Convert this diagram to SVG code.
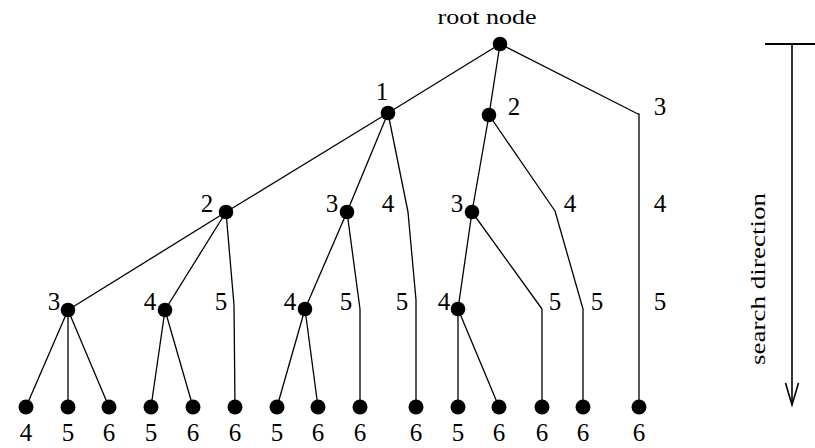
<svg xmlns="http://www.w3.org/2000/svg" width="815" height="448" viewBox="0 0 815 448">
  <style>
    .edge { fill: none; stroke: #000; stroke-width: 1.3; stroke-linejoin: round; }
    .dot { fill: #000; }
    .num { font-family: "Liberation Serif", "Times New Roman", serif; font-size: 25px; fill: #000; text-anchor: middle; }
    .cap { font-family: "Liberation Serif", "Times New Roman", serif; font-size: 21px; fill: #000; }
  </style>
  <rect width="815" height="448" fill="#fff"/>

  <!-- connectors -->
  <g id="connectors" class="edge">
    <!-- root -->
    <line x1="500" y1="44" x2="388" y2="113"/>
    <line x1="500" y1="44" x2="489" y2="115"/>
    <polyline points="500,44 638,114 639,114 639,407"/>
    <!-- node 1 -->
    <line x1="388" y1="113" x2="226" y2="212"/>
    <line x1="388" y1="113" x2="347" y2="212"/>
    <polyline points="388,113 408,212 416,300 416,407"/>
    <!-- node 2 -->
    <line x1="489" y1="115" x2="472" y2="212"/>
    <polyline points="489,115 555,211 583,309 583,407"/>
    <!-- node 1-2 -->
    <line x1="226" y1="212" x2="68" y2="310"/>
    <line x1="226" y1="212" x2="165" y2="310"/>
    <polyline points="226,212 234,305 235,407"/>
    <!-- node 1-3 -->
    <line x1="347" y1="212" x2="305" y2="309"/>
    <polyline points="347,212 360,309 360,407"/>
    <!-- node 2-3 -->
    <line x1="472" y1="212" x2="458" y2="309"/>
    <polyline points="472,212 542,309 542,407"/>
    <!-- level 3 to leaves -->
    <line x1="68" y1="310" x2="26" y2="407"/>
    <line x1="68" y1="310" x2="68" y2="407"/>
    <line x1="68" y1="310" x2="109" y2="407"/>
    <line x1="165" y1="310" x2="151" y2="407"/>
    <line x1="165" y1="310" x2="193" y2="407"/>
    <line x1="305" y1="309" x2="277" y2="407"/>
    <line x1="305" y1="309" x2="318" y2="407"/>
    <line x1="458" y1="309" x2="458" y2="407"/>
    <line x1="458" y1="309" x2="499" y2="407"/>
  </g>

  <!-- root -->
  <g id="root">
    <circle class="dot" cx="500" cy="44" r="7.3"/>
    <text class="cap" x="487" y="24" text-anchor="middle" textLength="99" lengthAdjust="spacingAndGlyphs">root node</text>
  </g>

  <!-- level 1 -->
  <g id="n1"><circle class="dot" cx="388" cy="113" r="7.3"/><text class="num" x="382" y="100">1</text></g>
  <g id="n2"><circle class="dot" cx="489" cy="115" r="7.3"/><text class="num" x="514" y="115">2</text></g>
  <g id="b3"><text class="num" x="660" y="115">3</text></g>

  <!-- level 2 -->
  <g id="n1_2"><circle class="dot" cx="226" cy="212" r="7.3"/><text class="num" x="207" y="212">2</text></g>
  <g id="n1_3"><circle class="dot" cx="347" cy="212" r="7.3"/><text class="num" x="332" y="212">3</text></g>
  <g id="b1_4"><text class="num" x="388" y="212">4</text></g>
  <g id="n2_3"><circle class="dot" cx="472" cy="212" r="7.3"/><text class="num" x="457" y="212">3</text></g>
  <g id="b2_4"><text class="num" x="570" y="212">4</text></g>
  <g id="b3_4"><text class="num" x="660" y="212">4</text></g>

  <!-- level 3 -->
  <g id="n12_3"><circle class="dot" cx="68" cy="310" r="7.3"/><text class="num" x="54" y="310">3</text></g>
  <g id="n12_4"><circle class="dot" cx="165" cy="310" r="7.3"/><text class="num" x="150" y="310">4</text></g>
  <g id="b12_5"><text class="num" x="221" y="310">5</text></g>
  <g id="n13_4"><circle class="dot" cx="305" cy="309" r="7.3"/><text class="num" x="290" y="310">4</text></g>
  <g id="b13_5"><text class="num" x="346" y="310">5</text></g>
  <g id="b14_5"><text class="num" x="402" y="310">5</text></g>
  <g id="n23_4"><circle class="dot" cx="458" cy="309" r="7.3"/><text class="num" x="444" y="310">4</text></g>
  <g id="b23_5"><text class="num" x="555" y="310">5</text></g>
  <g id="b24_5"><text class="num" x="597" y="310">5</text></g>
  <g id="b34_5"><text class="num" x="660" y="310">5</text></g>

  <!-- leaves -->
  <g id="leaf1"><circle class="dot" cx="26" cy="407" r="7.5"/><text class="num" x="26" y="441">4</text></g>
  <g id="leaf2"><circle class="dot" cx="68" cy="407" r="7.5"/><text class="num" x="68" y="441">5</text></g>
  <g id="leaf3"><circle class="dot" cx="109" cy="407" r="7.5"/><text class="num" x="109" y="441">6</text></g>
  <g id="leaf4"><circle class="dot" cx="151" cy="407" r="7.5"/><text class="num" x="151" y="441">5</text></g>
  <g id="leaf5"><circle class="dot" cx="193" cy="407" r="7.5"/><text class="num" x="193" y="441">6</text></g>
  <g id="leaf6"><circle class="dot" cx="235" cy="407" r="7.5"/><text class="num" x="235" y="441">6</text></g>
  <g id="leaf7"><circle class="dot" cx="277" cy="407" r="7.5"/><text class="num" x="277" y="441">5</text></g>
  <g id="leaf8"><circle class="dot" cx="318" cy="407" r="7.5"/><text class="num" x="318" y="441">6</text></g>
  <g id="leaf9"><circle class="dot" cx="360" cy="407" r="7.5"/><text class="num" x="360" y="441">6</text></g>
  <g id="leaf10"><circle class="dot" cx="416" cy="407" r="7.5"/><text class="num" x="416" y="441">6</text></g>
  <g id="leaf11"><circle class="dot" cx="458" cy="407" r="7.5"/><text class="num" x="458" y="441">5</text></g>
  <g id="leaf12"><circle class="dot" cx="499" cy="407" r="7.5"/><text class="num" x="499" y="441">6</text></g>
  <g id="leaf13"><circle class="dot" cx="542" cy="407" r="7.5"/><text class="num" x="542" y="441">6</text></g>
  <g id="leaf14"><circle class="dot" cx="583" cy="407" r="7.5"/><text class="num" x="583" y="441">6</text></g>
  <g id="leaf15"><circle class="dot" cx="639" cy="407" r="7.5"/><text class="num" x="639" y="441">6</text></g>

  <!-- search direction indicator -->
  <g id="direction">
    <line x1="765" y1="44" x2="815" y2="44" stroke="#000" stroke-width="2"/>
    <line x1="792" y1="44" x2="792" y2="405" stroke="#000" stroke-width="1.6"/>
    <polyline points="785.5,383 792,405 798.5,383" fill="none" stroke="#000" stroke-width="1.6"/>
    <text class="cap" transform="translate(765,279) rotate(-90)" text-anchor="middle" textLength="172" lengthAdjust="spacingAndGlyphs">search direction</text>
  </g>
</svg>
